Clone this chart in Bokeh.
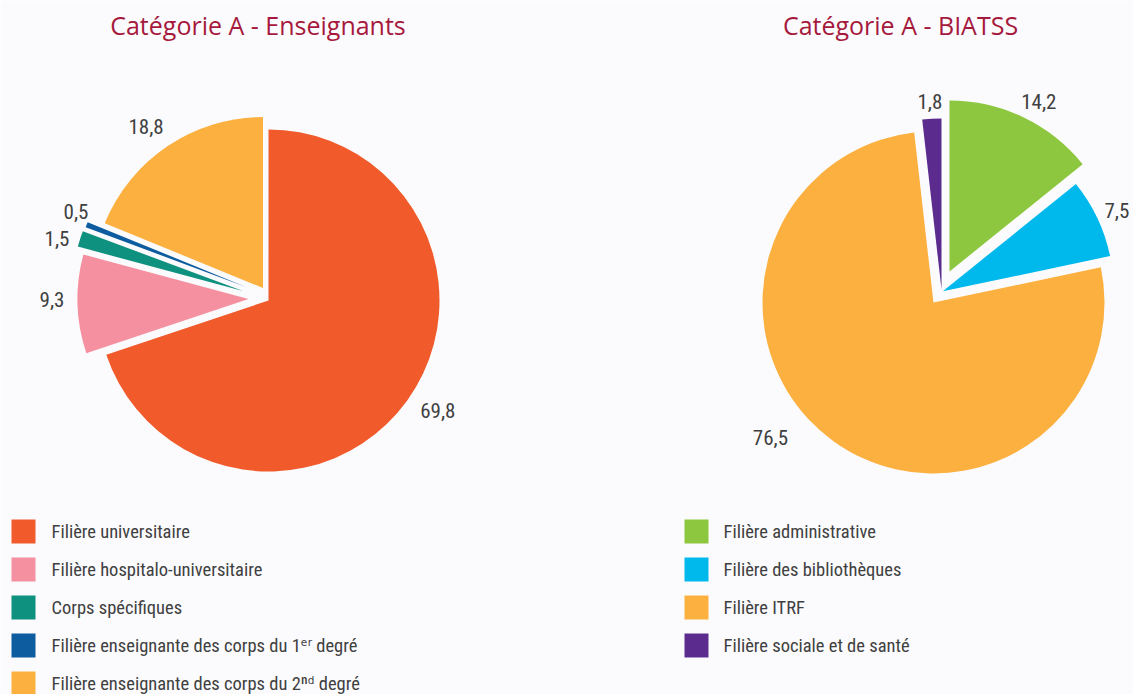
import math
from bokeh.plotting import figure
from bokeh.models import Range1d, ColumnDataSource
from bokeh.core.properties import value
from bokeh.embed import file_html
from bokeh.resources import INLINE

# ---------------- data ----------------
ens_title = "Catégorie A - Enseignants"
ens_labels = [
    "Filière universitaire",
    "Filière hospitalo-universitaire",
    "Corps spécifiques",
    "Filière enseignante des corps du 1ᵉʳ degré",
    "Filière enseignante des corps du 2ⁿᵈ degré",
]
ens_values = [69.8, 9.3, 1.5, 0.5, 18.8]
ens_colors = ["#F15A2B", "#F4909F", "#0F917F", "#0E5CA0", "#FBB040"]

bia_title = "Catégorie A - BIATSS"
bia_labels = [
    "Filière administrative",
    "Filière des bibliothèques",
    "Filière ITRF",
    "Filière sociale et de santé",
]
bia_values = [14.2, 7.5, 76.5, 1.8]
bia_colors = ["#8DC63F", "#00B9EC", "#FBB040", "#5B2C8E"]

# ---------------- styling / layout ----------------
W, H = 1133, 694
BG = "#FBFBFD"
TITLE_COLOR = "#A6193C"
TEXT_COLOR = "#404040"
COND = "Roboto Condensed, Liberation Sans Narrow, DejaVu Sans Condensed, Roboto"

def X(px):
    return px

def Y(py):
    return H - py

p = figure(width=W, height=H, x_range=Range1d(0, W), y_range=Range1d(0, H),
           output_backend="svg", toolbar_location=None, min_border=0,
           x_axis_type=None, y_axis_type=None,
           background_fill_color=BG, border_fill_color=BG, outline_line_color=None)
p.grid.visible = False

R = 171

def fmt(v):
    return ("%.1f" % v).replace(".", ",")

def draw_pie(cx, cy, values, colors, shifts, lab_d, lab_tw):
    total = sum(values)
    cum = 0.0
    xs, ys, sa, ea, cols = [], [], [], [], []
    lx, ly, lt = [], [], []
    for v, c, (dx, dy), d, tw in zip(values, colors, shifts, lab_d, lab_tw):
        a0 = cum / total * 360.0
        a1 = (cum + v) / total * 360.0
        cum += v
        vx, vy = cx + dx, cy + dy
        xs.append(vx); ys.append(vy)
        sa.append(math.radians(90 - a0)); ea.append(math.radians(90 - a1))
        cols.append(c)
        m = math.radians((a0 + a1) / 2 + tw)
        lx.append(vx + d * math.sin(m)); ly.append(vy + d * math.cos(m))
        lt.append(fmt(v))
    src = ColumnDataSource(dict(x=xs, y=ys, sa=sa, ea=ea, c=cols))
    p.wedge(x="x", y="y", radius=R, start_angle="sa", end_angle="ea",
            direction="clock", fill_color="c", line_color=None, source=src)
    lsrc = ColumnDataSource(dict(x=lx, y=ly, t=lt))
    p.text(x="x", y="y", text="t", source=lsrc, text_align="center",
           text_baseline="middle", text_font=value(COND), text_font_size="21px",
           text_color=TEXT_COLOR)

# slice displacement (explode) in px: (dx, dy up)
ens_shift = [(0, 0), (-20, 1.5), (-25.5, 9.5), (-22.6, 13.6), (-5.5, 12.5)]
ens_lab_d = [202, 196.5, 193.4, 185.7, 199]
ens_lab_tw = [-2.7, 1.7, -1.85, 2.45, -2.1]
draw_pie(X(268), Y(300), ens_values, ens_colors, ens_shift, ens_lab_d, ens_lab_tw)

bia_shift = [(16, 31), (9.3, 11.2), (0, 0), (8, 13)]
bia_lab_d = [191.7, 191.8, 211.6, 187.9]
bia_lab_tw = [2.2, 0.6, 14.6, -0.3]
draw_pie(X(933), Y(302), bia_values, bia_colors, bia_shift, bia_lab_d, bia_lab_tw)

# titles
p.text(x=[X(257.5), X(900)], y=[Y(24), Y(24)], text=[ens_title, bia_title],
       text_align="center", text_baseline="middle",
       text_font=value("Open Sans"), text_font_size="25px", text_color=TITLE_COLOR)

# legends
def draw_legend(sq_x, tx_x, labels, colors):
    rows = [Y(531 + 38 * i) for i in range(len(labels))]
    p.rect(x=[sq_x] * len(labels), y=rows, width=24, height=24,
           fill_color=colors, line_color=None)
    p.text(x=[tx_x] * len(labels), y=rows, text=labels, text_align="left",
           text_baseline="middle", text_font=value(COND), text_font_size="18.5px",
           text_color=TEXT_COLOR)

draw_legend(X(23), X(51), ens_labels, ens_colors)
draw_legend(X(696), X(723), bia_labels, bia_colors)

open("out.html", "w").write(file_html(p, INLINE))
